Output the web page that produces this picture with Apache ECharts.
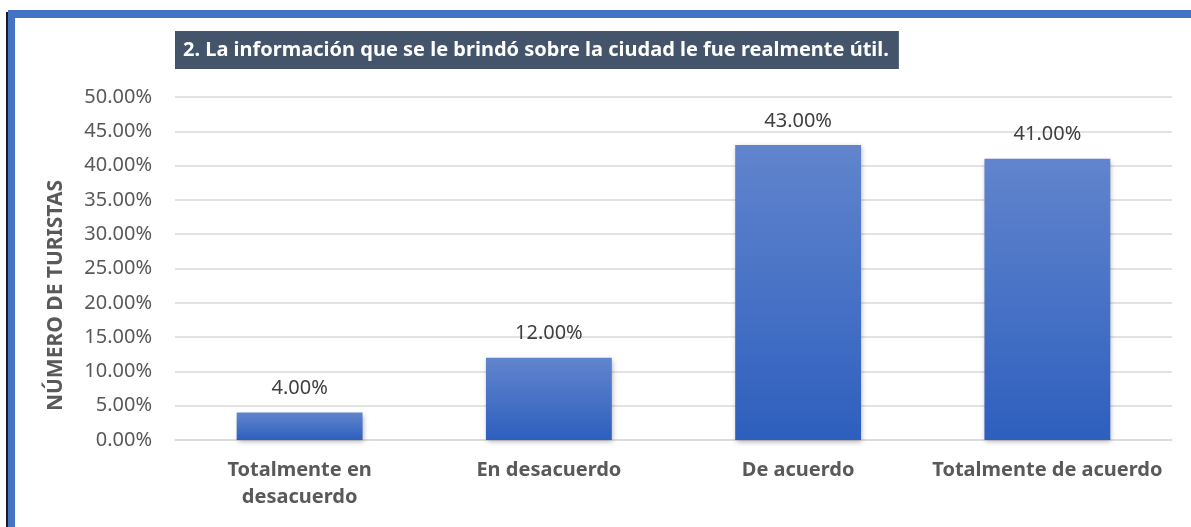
<!DOCTYPE html>
<html>
<head>
<meta charset="utf-8">
<script src="https://cdn.jsdelivr.net/npm/echarts@6/dist/echarts.min.js"></script>
<style>
  html, body { margin: 0; padding: 0; background: #fff; }
  #chart { width: 1191px; height: 527px; }
</style>
</head>
<body>
<div id="chart"></div>
<script>
const categories = ['Totalmente en\ndesacuerdo', 'En desacuerdo', 'De acuerdo', 'Totalmente de acuerdo'];
const values = [4, 12, 43, 41];
const yTicks = { min: 0, max: 50, interval: 5 };

const titleText = '2. La información que se le brindó sobre la ciudad le fue realmente útil.';
const axisName = 'NÚMERO DE TURISTAS';

const font = '"Noto Sans", "Open Sans", sans-serif';

var myChart = echarts.init(document.getElementById('chart'));

const option = {
    backgroundColor: '#fff',
    animation: false,
    title: {
        text: titleText,
        left: 175,
        top: 31,
        padding: [8, 10, 8, 8],
        backgroundColor: '#44546a',
        textStyle: {
            color: '#fff',
            fontFamily: font,
            fontWeight: 'bold',
            fontSize: 20,
            lineHeight: 22
        }
    },
    graphic: [
        // frame lines on the top and left edge
        { type: 'rect', shape: { x: 6, y: 12, width: 2, height: 520 }, style: { fill: '#1a1a1a' } },
        { type: 'rect', shape: { x: 8, y: 10, width: 1183, height: 8 }, style: { fill: '#4472c4' } },
        { type: 'rect', shape: { x: 8, y: 10, width: 7, height: 520 }, style: { fill: '#4472c4' } }
    ],
    grid: {
        left: 175,
        right: 19,
        top: 97,
        bottom: 87
    },
    xAxis: {
        type: 'category',
        data: categories,
        axisLine: { show: true, lineStyle: { color: '#d9d9d9', width: 1.5 } },
        axisTick: { show: false },
        axisLabel: {
            interval: 0,
            color: '#595959',
            fontFamily: font,
            fontWeight: 'bold',
            fontSize: 20,
            lineHeight: 27,
            margin: 17
        }
    },
    yAxis: {
        type: 'value',
        min: yTicks.min,
        max: yTicks.max,
        interval: yTicks.interval,
        name: axisName,
        nameLocation: 'middle',
        nameRotate: 90,
        nameGap: 108,
        nameTextStyle: {
            color: '#595959',
            fontFamily: font,
            fontWeight: 'bold',
            fontSize: 21,
            padding: [0, 54, 0, 0]
        },
        axisLine: { show: false },
        axisTick: { show: false },
        splitLine: { lineStyle: { color: '#d9d9d9', width: 1.5 } },
        axisLabel: {
            color: '#595959',
            fontFamily: font,
            fontSize: 20,
            margin: 23,
            formatter: function (v) { return v.toFixed(2) + '%'; }
        }
    },
    series: [
        {
            type: 'bar',
            data: values,
            barWidth: '50.5%',
            itemStyle: {
                color: new echarts.graphic.LinearGradient(0, 0, 0, 1, [
                    { offset: 0, color: '#6185cd' },
                    { offset: 1, color: '#2e5fbe' }
                ]),
                shadowColor: 'rgba(0,0,0,0.3)',
                shadowBlur: 5,
                shadowOffsetX: 1,
                shadowOffsetY: 2
            },
            label: {
                show: true,
                position: 'top',
                distance: 14,
                color: '#404040',
                fontFamily: font,
                fontSize: 20,
                formatter: function (p) { return p.value.toFixed(2) + '%'; }
            }
        }
    ]
};

option && myChart.setOption(option);

window.addEventListener('resize', function () {
    myChart.resize();
});
</script>
</body>
</html>
